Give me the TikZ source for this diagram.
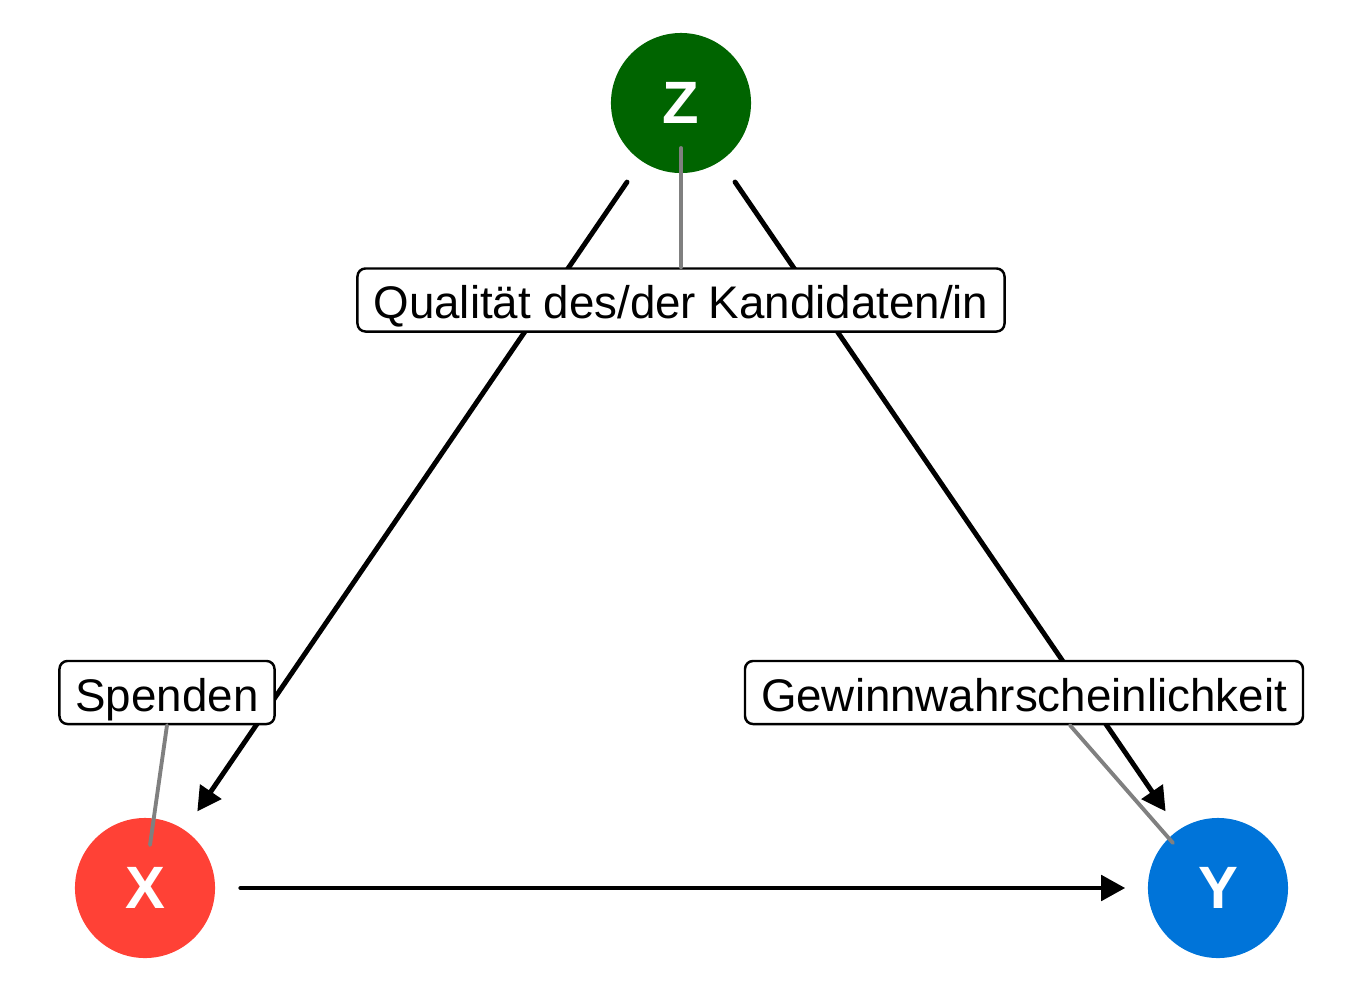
\documentclass[tikz,border=0pt]{standalone}
\usepackage{fontspec}
\setmainfont{Liberation Sans}
\usepackage{tikz}
\usetikzlibrary{arrows.meta, calc}

\definecolor{zgreen}{HTML}{006400}
\definecolor{xred}{HTML}{FF4136}
\definecolor{yblue}{HTML}{0074D9}

\begin{document}
\begin{tikzpicture}[x=0.01cm, y=-0.01cm, line cap=round, line join=round,
        dagnode/.style={circle, minimum size=1.4cm, inner sep=0pt, text=white, font=\fontsize{17}{20}\selectfont\bfseries},
        causal/.style={-{Triangle[length=0.24cm, width=0.25cm]}, line width=1.4pt, shorten <=0.25cm, shorten >=0.22cm},
        lbl/.style={draw, fill=white, rounded corners=0.08cm, line width=0.7pt, inner xsep=0.16cm, inner ysep=0.05cm,
            text height=0.45cm, text depth=0.08cm, minimum height=0.63cm, font=\fontsize{13}{15.6}\selectfont},
        repel/.style={gray, line width=1.1pt}]
        \useasboundingbox (0,0) rectangle (1350,1005);

        % variables
        \node[dagnode, fill=zgreen] (Z) at (681,103) {Z};
        \node[dagnode, fill=xred]   (X) at (145,888) {X};
        \node[dagnode, fill=yblue]  (Y) at (1218,888) {Y};

        % causal paths
        \draw[causal] (Z) -- (X);
        \draw[causal] (Z) -- (Y);
        \draw[causal] (X) -- (Y);

        % labels
        \node[lbl] (qual) at (681,300) {Qualität des/der Kandidaten/in};
        \node[lbl] (spenden) at (167,692.5) {Spenden};
        \node[lbl] (gewinn) at (1024,692.5) {Gewinnwahrscheinlichkeit};

        % label segments
        \coordinate (zend) at (681,148);
        \coordinate (xend) at (150,845);
        \coordinate (yend) at (1173,843);
        \draw[repel] (qual.north) -- (zend);
        \draw[repel] (spenden.south) -- (xend);
        \draw[repel] ($(gewinn.south)+(46,0)$) -- (yend);
    \end{tikzpicture}
\end{document}
